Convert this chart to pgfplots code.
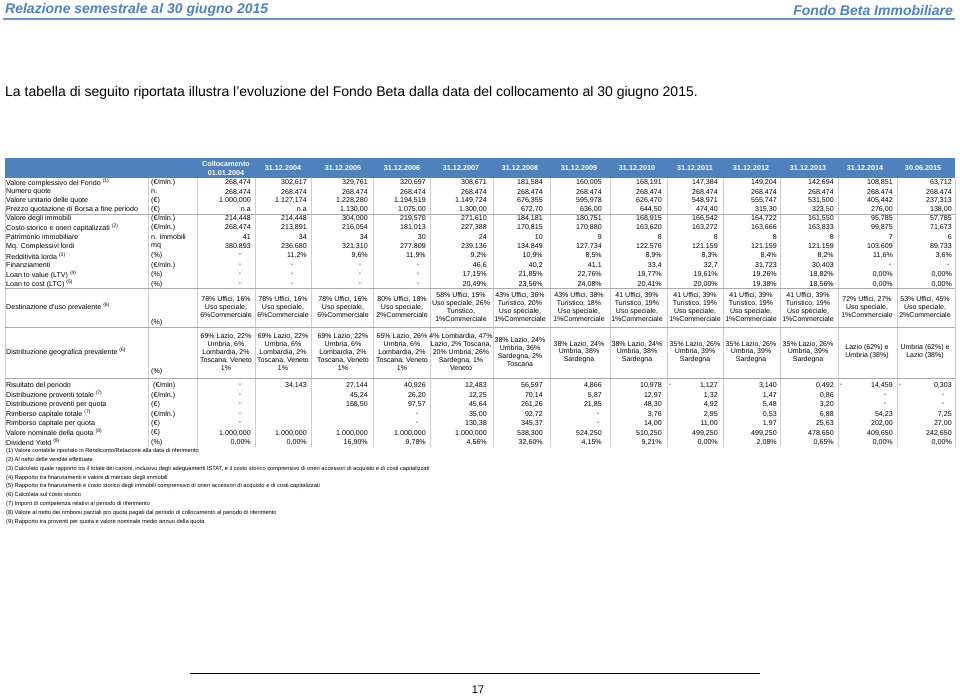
\documentclass[border=0pt]{standalone}
\usepackage{pgfplots}
\pgfplotsset{compat=1.18}
\usepackage{fontspec}
\setmainfont{Liberation Sans}
\definecolor{hdrblue}{RGB}{79,129,189}
\definecolor{titleblue}{RGB}{79,129,189}
\definecolor{gridgray}{RGB}{205,205,205}
\definecolor{linegray}{RGB}{170,170,170}
\protected\def\nl{\\}
\newcommand\tf{\fontsize{7.1}{8.6}\selectfont}
\newcommand\cf{\fontsize{7.0}{7.8}\selectfont}
\newcommand\hf{\fontsize{7.2}{9.8}\selectfont\bfseries}
\newcommand\ff{\fontsize{5.7}{6.5}\selectfont}
\newcommand\fnm[1]{\textsuperscript{\fontsize{5}{5}\selectfont(#1)}}
\pgfplotsset{
  valrow/.style={draw=none, mark=none, forget plot, point meta=explicit symbolic,
    nodes near coords={\pgfplotspointmeta},
    every node near coord/.append style={anchor=east, font=\tf, inner sep=0pt, text=black}},
  dashrow/.style={valrow, every node near coord/.append style={anchor=center}},
  cellrow/.style={valrow, every node near coord/.append style={anchor=center, align=center, font=\cf}},
}
\tikzset{
  lbl/.style={anchor=west, font=\tf, inner sep=0pt},
  hd/.style={font=\hf, text=white, inner sep=0pt},
  vg/.style={gridgray, line width=0.5pt},
  fn/.style={anchor=west, font=\ff, inner sep=0pt},
}
\begin{document}
\begin{tikzpicture}
\begin{axis}[
  width=960pt, height=697pt, scale only axis,
  xmin=0, xmax=960, ymin=0, ymax=697, y dir=reverse,
  hide axis, clip=false]
\path (axis cs:0,0) rectangle (axis cs:960,697);
% page header
\node[anchor=west, font=\fontsize{14}{16}\selectfont\bfseries\itshape, text=titleblue, inner sep=0pt] at (axis cs:5,10) {Relazione semestrale al 30 giugno 2015};
\node[anchor=east, font=\fontsize{14}{16}\selectfont\bfseries\itshape, text=titleblue, inner sep=0pt] at (axis cs:953,10) {Fondo Beta Immobiliare};
\draw[titleblue!85, line width=1.2pt] (axis cs:3,19) -- (axis cs:955,19);
\node[anchor=west, font=\fontsize{14}{16}\selectfont, inner sep=0pt] at (axis cs:5,93) {La tabella di seguito riportata illustra l’evoluzione del Fondo Beta dalla data del collocamento al 30 giugno 2015.};
% table header
\fill[hdrblue] (axis cs:5,158) rectangle (axis cs:955,178);
\node[hd, align=center] at (axis cs:226,168.5) {Collocamento\\01.01.2004};
\node[hd] at (axis cs:283,168) {31.12.2004};
\node[hd] at (axis cs:343,168) {31.12.2005};
\node[hd] at (axis cs:402,168) {31.12.2006};
\node[hd] at (axis cs:461,168) {31.12.2007};
\node[hd] at (axis cs:520,168) {31.12.2008};
\node[hd] at (axis cs:579,168) {31.12.2009};
\node[hd] at (axis cs:637,168) {31.12.2010};
\node[hd] at (axis cs:695,168) {31.12.2011};
\node[hd] at (axis cs:751,168) {31.12.2012};
\node[hd] at (axis cs:808,168) {31.12.2013};
\node[hd] at (axis cs:865,168) {31.12.2014};
\node[hd] at (axis cs:923,168) {30.06.2015};
% grid lines
\draw[vg] (axis cs:5,178) -- (axis cs:5,447);
\draw[vg] (axis cs:148,178) -- (axis cs:148,447);
\draw[vg] (axis cs:197,178) -- (axis cs:197,447);
\draw[vg] (axis cs:255,178) -- (axis cs:255,447);
\draw[vg] (axis cs:311,178) -- (axis cs:311,447);
\draw[vg] (axis cs:373,178) -- (axis cs:373,447);
\draw[vg] (axis cs:430,178) -- (axis cs:430,447);
\draw[vg] (axis cs:493,178) -- (axis cs:493,447);
\draw[vg] (axis cs:550,178) -- (axis cs:550,447);
\draw[vg] (axis cs:610,178) -- (axis cs:610,447);
\draw[vg] (axis cs:667,178) -- (axis cs:667,447);
\draw[vg] (axis cs:723,178) -- (axis cs:723,447);
\draw[vg] (axis cs:780,178) -- (axis cs:780,447);
\draw[vg] (axis cs:838,178) -- (axis cs:838,447);
\draw[vg] (axis cs:897,178) -- (axis cs:897,447);
\draw[vg] (axis cs:955,178) -- (axis cs:955,447);
\draw[linegray, line width=0.5pt] (axis cs:5,214) -- (axis cs:955,214);
\draw[linegray, line width=0.5pt] (axis cs:5,288.5) -- (axis cs:955,288.5);
\draw[linegray, line width=0.5pt] (axis cs:5,327) -- (axis cs:955,327);
\draw[linegray, line width=0.5pt] (axis cs:5,378) -- (axis cs:955,378);
% row labels
\node[lbl] at (axis cs:6,182.5) {Valore complessivo del Fondo \fnm{1}};
\node[lbl] at (axis cs:6,191.7) {Numero quote};
\node[lbl] at (axis cs:6,200.8) {Valore unitario delle quote};
\node[lbl] at (axis cs:6,209.5) {Prezzo quotazione di Borsa a fine periodo};
\node[lbl] at (axis cs:6,218.5) {Valore degli immobili};
\node[lbl] at (axis cs:6,227.8) {Costo storico e oneri capitalizzati \fnm{2}};
\node[lbl] at (axis cs:6,237) {Patrimonio immobiliare};
\node[lbl] at (axis cs:6,246.3) {Mq. Complessivi lordi};
\node[lbl] at (axis cs:6,255.8) {Redditività lorda \fnm{3}};
\node[lbl] at (axis cs:6,265.2) {Finanziamenti};
\node[lbl] at (axis cs:6,274.7) {Loan to value (LTV) \fnm{4}};
\node[lbl] at (axis cs:6,284.2) {Loan to cost (LTC) \fnm{5}};
\node[lbl] at (axis cs:6,307) {Destinazione d’uso prevalente \fnm{6}};
\node[lbl] at (axis cs:6,352) {Distribuzione geografica prevalente \fnm{6}};
\node[lbl] at (axis cs:6,385.7) {Risultato del periodo};
\node[lbl] at (axis cs:6,395.3) {Distribuzione proventi totale \fnm{7}};
\node[lbl] at (axis cs:6,404.7) {Distribuzione proventi per quota};
\node[lbl] at (axis cs:6,414.3) {Rimborso capitale totale \fnm{7}};
\node[lbl] at (axis cs:6,423.7) {Rimborso capitale per quota};
\node[lbl] at (axis cs:6,433) {Valore nominale della quota \fnm{8}};
\node[lbl] at (axis cs:6,442.3) {Dividend Yield \fnm{9}};
% units
\node[lbl] at (axis cs:151,182.5) {(€/mln.)};
\node[lbl] at (axis cs:151,191.7) {n.};
\node[lbl] at (axis cs:151,200.8) {(€)};
\node[lbl] at (axis cs:151,209.5) {(€)};
\node[lbl] at (axis cs:151,218.5) {(€/mln.)};
\node[lbl] at (axis cs:151,227.8) {(€/mln.)};
\node[lbl] at (axis cs:151,237) {n. immobili};
\node[lbl] at (axis cs:151,246.3) {mq};
\node[lbl] at (axis cs:151,255.8) {(\%)};
\node[lbl] at (axis cs:151,265.2) {(€/mln.)};
\node[lbl] at (axis cs:151,274.7) {(\%)};
\node[lbl] at (axis cs:151,284.2) {(\%)};
\node[lbl] at (axis cs:151,322.5) {(\%)};
\node[lbl] at (axis cs:151,372) {(\%)};
\node[lbl] at (axis cs:153,385.7) {(€/mln)};
\node[lbl] at (axis cs:151,395.3) {(€/mln.)};
\node[lbl] at (axis cs:151,404.7) {(€)};
\node[lbl] at (axis cs:151,414.3) {(€/mln.)};
\node[lbl] at (axis cs:151,423.7) {(€)};
\node[lbl] at (axis cs:151,433) {(€)};
\node[lbl] at (axis cs:151,442.3) {(\%)};
% values
\addplot[valrow] coordinates {(251,182.5)[268,474] (307,182.5)[302,617] (368,182.5)[329,761] (426,182.5)[320,697] (487,182.5)[308,671] (543,182.5)[181,584] (602,182.5)[160,005] (662,182.5)[168,191] (718,182.5)[147,384] (777,182.5)[149,204] (834,182.5)[142,694] (893,182.5)[108,851] (952,182.5)[63,712]};
\addplot[valrow] coordinates {(251,191.7)[268.474] (307,191.7)[268.474] (368,191.7)[268.474] (426,191.7)[268.474] (487,191.7)[268.474] (543,191.7)[268.474] (602,191.7)[268.474] (662,191.7)[268.474] (718,191.7)[268.474] (777,191.7)[268.474] (834,191.7)[268.474] (893,191.7)[268.474] (952,191.7)[268.474]};
\addplot[valrow] coordinates {(251,200.8)[1.000,000] (307,200.8)[1.127,174] (368,200.8)[1.228,280] (426,200.8)[1.194,519] (487,200.8)[1.149,724] (543,200.8)[676,355] (602,200.8)[595,978] (662,200.8)[626,470] (718,200.8)[548,971] (777,200.8)[555,747] (834,200.8)[531,500] (893,200.8)[405,442] (952,200.8)[237,313]};
\addplot[valrow] coordinates {(251,209.5)[n.a] (307,209.5)[n.a] (368,209.5)[1.130,00] (426,209.5)[1.075,00] (487,209.5)[1.300,00] (543,209.5)[672,70] (602,209.5)[636,00] (662,209.5)[644,50] (718,209.5)[474,40] (777,209.5)[315,30] (834,209.5)[323,50] (893,209.5)[276,00] (952,209.5)[138,00]};
\addplot[valrow] coordinates {(251,218.5)[214,448] (307,218.5)[214,448] (368,218.5)[304,000] (426,218.5)[219,570] (487,218.5)[271,610] (543,218.5)[184,181] (602,218.5)[180,751] (662,218.5)[168,915] (718,218.5)[166,542] (777,218.5)[164,722] (834,218.5)[161,550] (893,218.5)[95,785] (952,218.5)[57,785]};
\addplot[valrow] coordinates {(251,227.8)[268,474] (307,227.8)[213,891] (368,227.8)[216,054] (426,227.8)[181,013] (487,227.8)[227,388] (543,227.8)[170,815] (602,227.8)[170,880] (662,227.8)[163,620] (718,227.8)[163,272] (777,227.8)[163,666] (834,227.8)[163,833] (893,227.8)[99,875] (952,227.8)[71,673]};
\addplot[valrow] coordinates {(251,237)[41] (307,237)[34] (368,237)[34] (426,237)[30] (487,237)[24] (543,237)[10] (602,237)[9] (662,237)[8] (718,237)[8] (777,237)[8] (834,237)[8] (893,237)[7] (952,237)[6]};
\addplot[valrow] coordinates {(251,246.3)[380.893] (307,246.3)[236.680] (368,246.3)[321.310] (426,246.3)[277.809] (487,246.3)[239.136] (543,246.3)[134.849] (602,246.3)[127.734] (662,246.3)[122.576] (718,246.3)[121.159] (777,246.3)[121.159] (834,246.3)[121.159] (893,246.3)[103.609] (952,246.3)[89.733]};
\addplot[valrow] coordinates {(307,255.8)[11,2\%] (368,255.8)[9,6\%] (426,255.8)[11,9\%] (487,255.8)[9,2\%] (543,255.8)[10,9\%] (602,255.8)[8,5\%] (662,255.8)[8,9\%] (718,255.8)[8,3\%] (777,255.8)[8,4\%] (834,255.8)[8,2\%] (893,255.8)[11,6\%] (952,255.8)[3,6\%]};
\addplot[valrow] coordinates {(487,265.2)[46,6] (543,265.2)[40,2] (602,265.2)[41,1] (662,265.2)[33,4] (718,265.2)[32,7] (777,265.2)[31,723] (834,265.2)[30,403]};
\addplot[valrow] coordinates {(487,274.7)[17,15\%] (543,274.7)[21,85\%] (602,274.7)[22,76\%] (662,274.7)[19,77\%] (718,274.7)[19,61\%] (777,274.7)[19,26\%] (834,274.7)[18,82\%] (893,274.7)[0,00\%] (952,274.7)[0,00\%]};
\addplot[valrow] coordinates {(487,284.2)[20,49\%] (543,284.2)[23,56\%] (602,284.2)[24,08\%] (662,284.2)[20,41\%] (718,284.2)[20,00\%] (777,284.2)[19,38\%] (834,284.2)[18,56\%] (893,284.2)[0,00\%] (952,284.2)[0,00\%]};
\addplot[dashrow] coordinates {(240,255.8)[-] (240,265.2)[-] (292,265.2)[-] (360,265.2)[-] (418,265.2)[-] (890,265.2)[-] (948,265.2)[-] (240,274.7)[-] (292,274.7)[-] (360,274.7)[-] (418,274.7)[-] (240,284.2)[-] (292,284.2)[-] (360,284.2)[-] (418,284.2)[-]};
% multi-line cells
\addplot[cellrow] coordinates {
 (226,307)[78\% Uffici, 16\%\nl Uso speciale,\nl 6\%Commerciale]
 (283,307)[78\% Uffici, 16\%\nl Uso speciale,\nl 6\%Commerciale]
 (343,307)[78\% Uffici, 16\%\nl Uso speciale,\nl 6\%Commerciale]
 (402,307)[80\% Uffici, 18\%\nl Uso speciale,\nl 2\%Commerciale]
 (461,307)[58\% Uffici, 15\%\nl Uso speciale, 26\%\nl Turistico,\nl 1\%Commerciale]
 (520,307)[43\% Uffici,  36\%\nl Turistico, 20\%\nl Uso speciale,\nl 1\%Commerciale]
 (579,307)[43\% Uffici,  38\%\nl Turistico, 18\%\nl Uso speciale,\nl 1\%Commerciale]
 (637,307)[41 Uffici,  39\%\nl Turistico, 19\%\nl Uso speciale,\nl 1\%Commerciale]
 (695,307)[41 Uffici,  39\%\nl Turistico, 19\%\nl Uso speciale,\nl 1\%Commerciale]
 (751,307)[41 Uffici,  39\%\nl Turistico, 19\%\nl Uso speciale,\nl 1\%Commerciale]
 (808,307)[41 Uffici,  39\%\nl Turistico, 19\%\nl Uso speciale,\nl 1\%Commerciale]
 (867,307)[72\% Uffici, 27\%\nl Uso speciale,\nl 1\%Commerciale]
 (925,307)[53\% Uffici, 45\%\nl Uso speciale,\nl 2\%Commerciale]};
\addplot[cellrow] coordinates {
 (226,352)[69\% Lazio, 22\%\nl Umbria, 6\%\nl Lombardia, 2\%\nl Toscana, Veneto\nl 1\%]
 (283,352)[69\% Lazio, 22\%\nl Umbria, 6\%\nl Lombardia, 2\%\nl Toscana, Veneto\nl 1\%]
 (343,352)[69\% Lazio, 22\%\nl Umbria, 6\%\nl Lombardia, 2\%\nl Toscana, Veneto\nl 1\%]
 (402,352)[65\% Lazio, 26\%\nl Umbria, 6\%\nl Lombardia, 2\%\nl Toscana, Veneto\nl 1\%]
 (461,352)[4\% Lombardia, 47\%\nl Lazio, 2\% Toscana,\nl 20\% Umbria, 26\%\nl Sardegna, 1\%\nl Veneto]
 (520,352)[38\% Lazio, 24\%\nl Umbria, 36\%\nl Sardegna, 2\%\nl Toscana]
 (579,352)[38\% Lazio, 24\%\nl Umbria, 38\%\nl Sardegna]
 (637,352)[38\% Lazio, 24\%\nl Umbria, 38\%\nl Sardegna]
 (695,352)[35\% Lazio, 26\%\nl Umbria, 39\%\nl Sardegna]
 (751,352)[35\% Lazio, 26\%\nl Umbria, 39\%\nl Sardegna]
 (808,352)[35\% Lazio, 26\%\nl Umbria, 39\%\nl Sardegna]
 (867,352)[Lazio (62\%) e\nl Umbria (38\%)]
 (925,352)[Umbria (62\%) e\nl Lazio (38\%)]};
% lower block
\addplot[valrow] coordinates {(307,385.7)[34,143] (368,385.7)[27,144] (426,385.7)[40,926] (487,385.7)[12,483] (543,385.7)[56,597] (602,385.7)[4,866] (662,385.7)[10,978] (718,385.7)[1,127] (777,385.7)[3,140] (834,385.7)[0,492] (893,385.7)[14,459] (952,385.7)[0,303]};
\addplot[valrow] coordinates {(368,395.3)[45,24] (426,395.3)[26,20] (487,395.3)[12,25] (543,395.3)[70,14] (602,395.3)[5,87] (662,395.3)[12,97] (718,395.3)[1,32] (777,395.3)[1,47] (834,395.3)[0,86]};
\addplot[valrow] coordinates {(368,404.7)[168,50] (426,404.7)[97,57] (487,404.7)[45,64] (543,404.7)[261,26] (602,404.7)[21,85] (662,404.7)[48,30] (718,404.7)[4,92] (777,404.7)[5,48] (834,404.7)[3,20]};
\addplot[valrow] coordinates {(487,414.3)[35,00] (543,414.3)[92,72] (662,414.3)[3,76] (718,414.3)[2,95] (777,414.3)[0,53] (834,414.3)[6,88] (893,414.3)[54,23] (952,414.3)[7,25]};
\addplot[valrow] coordinates {(487,423.7)[130,38] (543,423.7)[345,37] (662,423.7)[14,00] (718,423.7)[11,00] (777,423.7)[1,97] (834,423.7)[25,63] (893,423.7)[202,00] (952,423.7)[27,00]};
\addplot[valrow] coordinates {(251,433)[1.000,000] (307,433)[1.000,000] (368,433)[1.000,000] (426,433)[1.000,000] (487,433)[1.000,000] (543,433)[538,300] (602,433)[524,250] (662,433)[510,250] (718,433)[499,250] (777,433)[499,250] (834,433)[478,650] (893,433)[409,650] (952,433)[242,650]};
\addplot[valrow] coordinates {(251,442.3)[0,00\%] (307,442.3)[0,00\%] (368,442.3)[16,90\%] (426,442.3)[9,78\%] (487,442.3)[4,56\%] (543,442.3)[32,60\%] (602,442.3)[4,15\%] (662,442.3)[9,21\%] (718,442.3)[0,00\%] (777,442.3)[2,08\%] (834,442.3)[0,65\%] (893,442.3)[0,00\%] (952,442.3)[0,00\%]};
\addplot[dashrow] coordinates {(240,385.7)[-] (670,385.7)[-] (841,385.7)[-] (900,385.7)[-]
 (240,395.3)[-] (885,395.3)[-] (943,395.3)[-]
 (240,404.7)[-] (885,404.7)[-] (943,404.7)[-]
 (240,414.3)[-] (417,414.3)[-] (598,414.3)[-]
 (240,423.7)[-] (417,423.7)[-] (598,423.7)[-]};
% footnotes
\node[fn] at (axis cs:6,451.3) {(1) Valore contabile riportato in Rendiconto/Relazione alla data di riferimento};
\node[fn] at (axis cs:6,460.1) {(2) Al netto delle vendite effettuate};
\node[fn] at (axis cs:6,468.9) {(3) Calcolato quale rapporto tra il totale dei canoni, inclusivo degli adeguamenti ISTAT, e il costo storico comprensivo di oneri accessori di acquisto e di costi capitalizzati};
\node[fn] at (axis cs:6,477.7) {(4) Rapporto tra finanziamenti e valore di mercato degli immobili};
\node[fn] at (axis cs:6,486.5) {(5) Rapporto tra finanziamenti e costo storico degli immobili comprensivo di oneri accessori di acquisto e di costi capitalizzati};
\node[fn] at (axis cs:6,495.3) {(6) Calcolata sul costo storico};
\node[fn] at (axis cs:6,504.1) {(7) Importi di competenza relativi al periodo di riferimento};
\node[fn] at (axis cs:6,512.9) {(8) Valore al netto dei rimborsi parziali pro quota pagati dal periodo di collocamento al periodo di riferimento};
\node[fn] at (axis cs:6,521.7) {(9) Rapporto tra proventi per quota e valore nominale medio annuo della quota};
% footer
\draw[black, line width=0.8pt] (axis cs:190,673) -- (axis cs:760,673);
\node[font=\fontsize{11}{12}\selectfont, inner sep=0pt] at (axis cs:478,690) {17};
\end{axis}
\end{tikzpicture}
\end{document}
